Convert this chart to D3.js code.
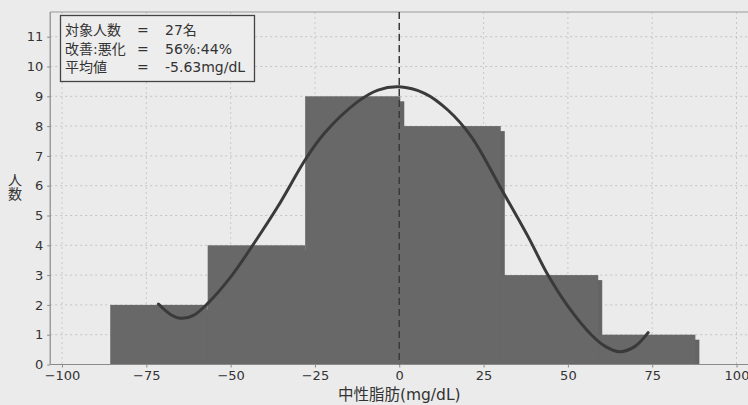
<!DOCTYPE html>
<html>
<head>
<meta charset="utf-8">
<script src="https://cdn.jsdelivr.net/npm/d3@7"></script>
<style>
  html, body { margin: 0; padding: 0; background: #ebebeb; }
  svg { display: block; }
  text { font-family: "DejaVu Sans", "Noto Sans CJK JP", sans-serif; fill: #333; }
  .cjk { font-family: "Noto Sans CJK JP", sans-serif; }
</style>
</head>
<body>
<svg id="chart" width="748" height="405"></svg>
<script>
// ---- data ----
const binStart = [-85.7, -56.8, -27.9, 0.3, 30.1, 59.0];
const binEnd   = [-56.8, -27.9, 0.3, 30.1, 59.0, 87.8];
const counts   = [2, 4, 9, 8, 3, 1];

const curveX = [-71.4, -67.8, -64.7, -61.0, -56.8, -49.9, -43.4, -36.0, -27.6, -22.2, -12.3, -6.3, 0.0, 7.5, 14.4, 21.4, 30.3, 38.2, 44.1, 50.1, 57.0, 61.2, 65.4, 69.8, 73.8];
const curveY = [2.03, 1.68, 1.55, 1.65, 2.05, 2.95, 4.01, 5.30, 6.92, 7.76, 8.82, 9.21, 9.32, 9.10, 8.54, 7.64, 5.88, 4.29, 3.00, 1.94, 0.99, 0.60, 0.43, 0.60, 1.07];

const xTicks = [-100, -75, -50, -25, 0, 25, 50, 75, 100];
const yTicks = [0, 1, 2, 3, 4, 5, 6, 7, 8, 9, 10, 11];
const meanLineX = 0;

const legendLabels = ["対象人数", "改善:悪化", "平均値"];
const legendValues = ["27名", "56%:44%", "-5.63mg/dL"];

const xTitle = "中性脂肪(mg/dL)";
const yTitle = "人数";

// ---- scales ----
const svg = d3.select("#chart");
const x = d3.scaleLinear().domain([-100, 100]).range([62, 736.5]);
const y = d3.scaleLinear().domain([0, 11]).range([364.5, 36.7]);
const plotLeft = x(-103.5), plotRight = 748;
const plotTop = 12, plotBottom = y(0);

// grid
const grid = svg.append("g");
grid.selectAll("line.h").data(yTicks.filter(d => d > 0)).join("line")
  .attr("x1", plotLeft).attr("x2", plotRight)
  .attr("y1", d => y(d)).attr("y2", d => y(d))
  .attr("stroke", "#c4c4c4").attr("stroke-width", 1).attr("stroke-dasharray", "2,3");
grid.selectAll("line.v").data(xTicks).join("line")
  .attr("x1", d => x(d)).attr("x2", d => x(d))
  .attr("y1", plotTop).attr("y2", plotBottom)
  .attr("stroke", "#c8c8c8").attr("stroke-width", 1).attr("stroke-dasharray", "2,3");

// bars (with small drop shadow)
const bars = counts.map((c, i) => ({ x0: binStart[i], x1: binEnd[i], c }));
svg.append("g").selectAll("rect").data(bars).join("rect")
  .attr("x", d => x(d.x0) + 4).attr("y", d => y(d.c) + 5)
  .attr("width", d => x(d.x1) - x(d.x0)).attr("height", d => y(0) - y(d.c) - 5)
  .attr("fill", "#646464");
svg.append("g").selectAll("rect").data(bars).join("rect")
  .attr("x", d => x(d.x0)).attr("y", d => y(d.c))
  .attr("width", d => x(d.x1) - x(d.x0)).attr("height", d => y(0) - y(d.c))
  .attr("fill", "#686868");

// frame lines
svg.append("line").attr("x1", plotLeft).attr("x2", plotRight).attr("y1", plotTop).attr("y2", plotTop)
  .attr("stroke", "#9a9a9a").attr("stroke-width", 1.2);
svg.append("line").attr("x1", plotLeft).attr("x2", plotLeft).attr("y1", plotTop).attr("y2", plotBottom)
  .attr("stroke", "#8a8a8a").attr("stroke-width", 1.2);
svg.append("line").attr("x1", plotLeft).attr("x2", plotRight).attr("y1", plotBottom).attr("y2", plotBottom)
  .attr("stroke", "#8a8a8a").attr("stroke-width", 1.2);

// mean dashed line
svg.append("line").attr("x1", x(meanLineX)).attr("x2", x(meanLineX))
  .attr("y1", plotTop).attr("y2", plotBottom)
  .attr("stroke", "#3a3a3a").attr("stroke-width", 1.5).attr("stroke-dasharray", "7,4");

// curve
const pts = curveX.map((v, i) => [v, curveY[i]]);
svg.append("path").datum(pts)
  .attr("d", d3.line().x(d => x(d[0])).y(d => y(d[1])).curve(d3.curveCatmullRom.alpha(0.5)))
  .attr("fill", "none").attr("stroke", "#3a3a3a").attr("stroke-width", 3).attr("stroke-linecap", "round");

// axes
const xAxis = svg.append("g").attr("transform", `translate(0,${plotBottom})`)
  .call(d3.axisBottom(x).tickValues(xTicks).tickSize(3).tickPadding(3).tickFormat(d3.format("d")));
xAxis.select(".domain").remove();
xAxis.selectAll("line").attr("stroke", "#8a8a8a");
xAxis.selectAll("text").attr("font-size", 13).attr("fill", "#333")
  .attr("font-family", "DejaVu Sans, sans-serif");

const yAxis = svg.append("g").attr("transform", `translate(${plotLeft},0)`)
  .call(d3.axisLeft(y).tickValues(yTicks).tickSize(3).tickPadding(4).tickFormat(d3.format("d")));
yAxis.select(".domain").remove();
yAxis.selectAll("line").attr("stroke", "#8a8a8a");
yAxis.selectAll("text").attr("font-size", 13).attr("fill", "#333")
  .attr("font-family", "DejaVu Sans, sans-serif");

// titles
svg.append("text").attr("x", x(0)).attr("y", 400).attr("text-anchor", "middle")
  .attr("font-size", 15.5).text(xTitle);
svg.append("text").attr("class", "cjk")
  .attr("x", 15).attr("y", 173)
  .style("writing-mode", "vertical-rl").style("text-orientation", "upright")
  .attr("font-size", 14).text(yTitle);

// legend box
const lg = svg.append("g");
lg.append("rect").attr("x", 60.5).attr("y", 15.5).attr("width", 194).attr("height", 66)
  .attr("fill", "#ededed").attr("stroke", "#444").attr("stroke-width", 1.3);
legendLabels.forEach((lab, i) => {
  const yy = 35 + i * 18.5;
  lg.append("text").attr("x", 65).attr("y", yy).attr("font-size", 14).text(lab);
  lg.append("text").attr("x", 137).attr("y", yy).attr("font-size", 14).text("=");
  lg.append("text").attr("x", 165).attr("y", yy).attr("font-size", 14).text(legendValues[i]);
});
</script>
</body>
</html>
